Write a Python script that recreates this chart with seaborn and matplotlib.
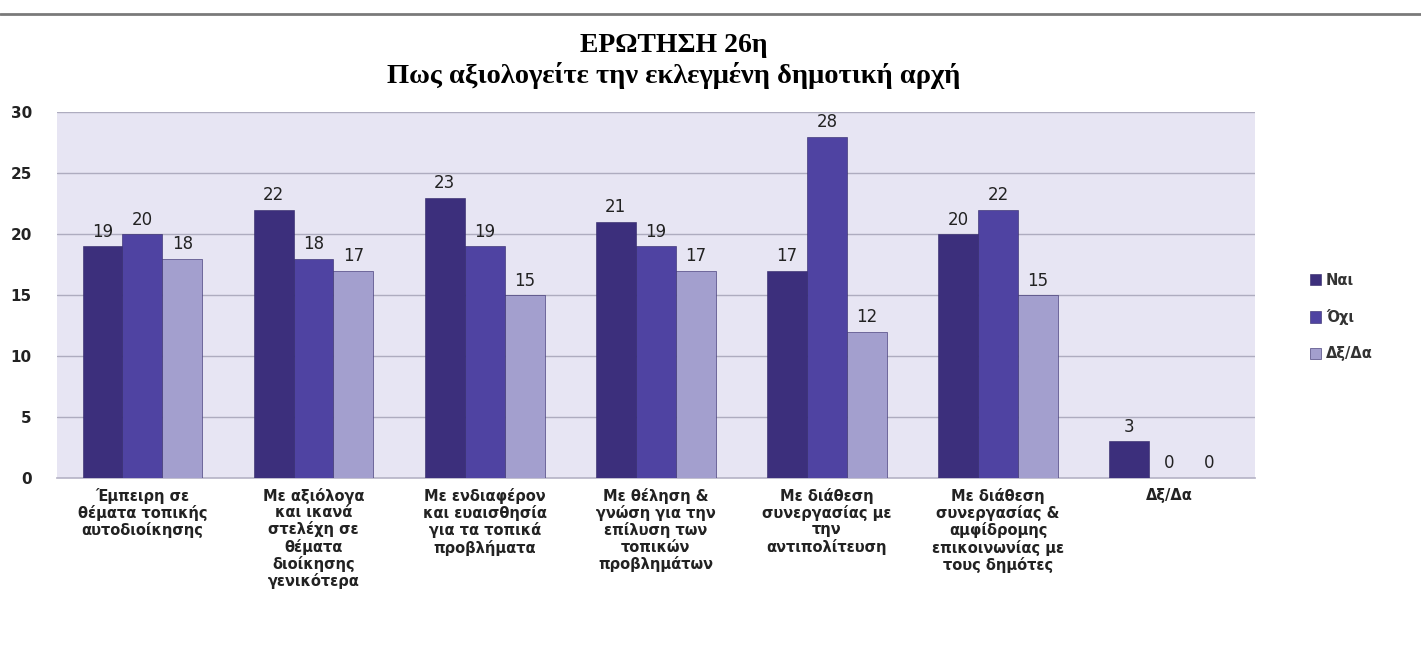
"""
Greek survey chart: question 26, grouped bars Ναι / Όχι / Δξ/Δα
"""

import pandas as pd
import numpy as np
import matplotlib.pyplot as plt
from matplotlib.lines import Line2D
import seaborn as sns

categories = [
    "Έμπειρη σε\nθέματα τοπικής\nαυτοδιοίκησης",
    "Με αξιόλογα\nκαι ικανά\nστελέχη σε\nθέματα\nδιοίκησης\nγενικότερα",
    "Με ενδιαφέρον\nκαι ευαισθησία\nγια τα τοπικά\nπροβλήματα",
    "Με θέληση &\nγνώση για την\nεπίλυση των\nτοπικών\nπροβλημάτων",
    "Με διάθεση\nσυνεργασίας με\nτην\nαντιπολίτευση",
    "Με διάθεση\nσυνεργασίας &\nαμφίδρομης\nεπικοινωνίας με\nτους δημότες",
    "Δξ/Δα",
]
series_names = ["Ναι", "Όχι", "Δξ/Δα"]
yes_values = [19, 22, 23, 21, 17, 20, 3]
no_values = [20, 18, 19, 19, 28, 22, 0]
dk_values = [18, 17, 15, 17, 12, 15, 0]
y_ticks = [0, 5, 10, 15, 20, 25, 30]

title_lines = ["ΕΡΩΤΗΣΗ 26η", "Πως αξιολογείτε την εκλεγμένη δημοτική αρχή"]

palette = ["#3c2f7c", "#4f43a2", "#a39fce"]

df = pd.DataFrame({
    "category": categories * 3,
    "series": [s for s in series_names for _ in categories],
    "value": yes_values + no_values + dk_values,
})

sns.set_theme(style="white")
plt.rcParams['font.family'] = ['DejaVu Sans']

fig = plt.figure(figsize=(14.21, 6.53), dpi=100)
ax = fig.add_axes([0.040, 0.268, 0.843, 0.560])
ax.set_facecolor("#e7e5f3")

sns.barplot(data=df, x="category", y="value", hue="series", order=categories,
            hue_order=series_names, palette=palette, width=0.7, saturation=1,
            edgecolor="#2e2466", linewidth=0.4, ax=ax, zorder=3)

for container in ax.containers:
    ax.bar_label(container, fmt="%d", padding=4, fontsize=12, color="#222222",
                 fontfamily="DejaVu Sans")

ax.set_ylim(0, 30)
ax.set_yticks(y_ticks)
ax.set_xlim(-0.5, len(categories) - 0.5)
ax.grid(axis="y", color="#aeacbf", linewidth=1.0, zorder=0)
ax.set_axisbelow(True)
for side in ["left", "right", "top"]:
    ax.spines[side].set_visible(False)
ax.spines["bottom"].set_color("#b8b6c8")
ax.tick_params(axis="y", length=0, pad=18, labelsize=11, labelcolor="#222222")
ax.tick_params(axis="x", length=0, pad=7, labelsize=10.5, labelcolor="#222222")
for lbl in ax.get_yticklabels():
    lbl.set_fontweight("bold")
for lbl in ax.get_xticklabels():
    lbl.set_fontfamily(["Liberation Sans Narrow", "DejaVu Sans"])
    lbl.set_fontweight("bold")
    lbl.set_linespacing(1.1)
ax.set_xlabel("")
ax.set_ylabel("")

leg = ax.legend(loc="center left", bbox_to_anchor=(1.035, 0.44), frameon=False,
                handlelength=0.8, handleheight=0.8, handletextpad=0.3,
                labelspacing=1.45, fontsize=10.5)
for t in leg.get_texts():
    t.set_fontweight("bold")
    t.set_color("#333333")

fig.text(0.474, 0.931, title_lines[0], ha="center", va="center", fontsize=20,
         fontweight="bold", fontfamily="Liberation Serif", color="black")
fig.text(0.474, 0.885, title_lines[1], ha="center", va="center", fontsize=20.5,
         fontweight="bold", fontfamily="Liberation Serif", color="black")

fig.add_artist(Line2D([0, 1], [0.978, 0.978], color="#7a7a7a", linewidth=2))

plt.savefig("out.png", dpi=100)
plt.close()
